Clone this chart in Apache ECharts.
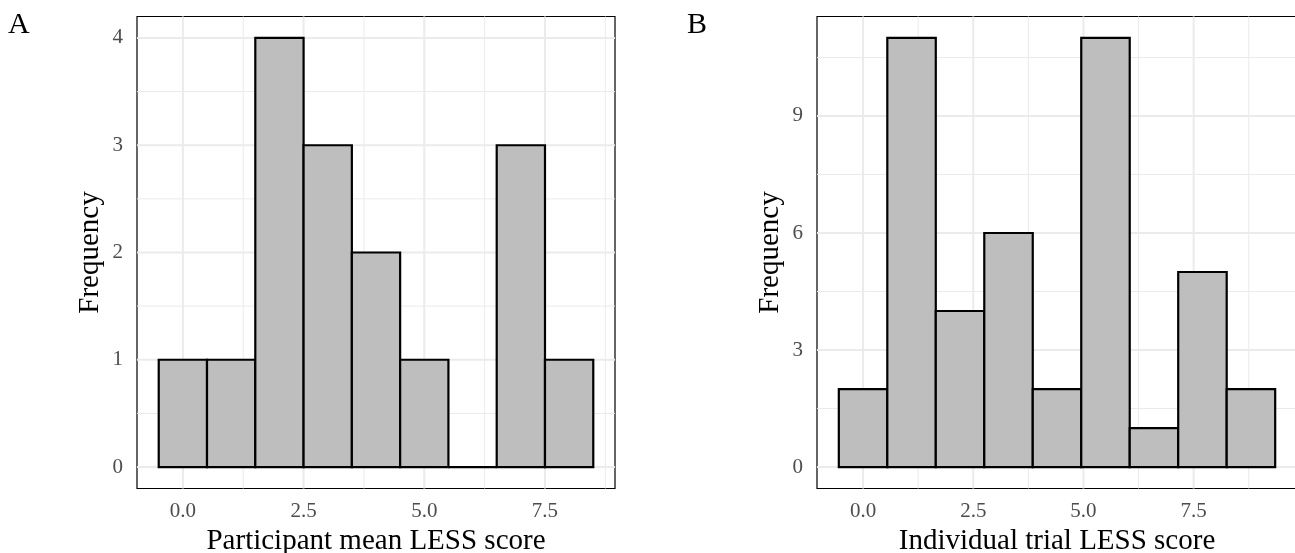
<!DOCTYPE html>
<html>
<head>
<meta charset="utf-8">
<script src="https://cdn.jsdelivr.net/npm/echarts@6/dist/echarts.min.js"></script>
<style>html,body{margin:0;padding:0;background:#fff}#c{width:1295px;height:553px}</style>
</head>
<body>
<div id="c"></div>
<script>
// ---- data ----
var binEdgesA = [-0.5, 0.5, 1.5, 2.5, 3.5, 4.5, 5.5, 6.5, 7.5, 8.5];
var countsA = [1, 1, 4, 3, 2, 1, 0, 3, 1];
var binEdgesB = [-0.55, 0.55, 1.65, 2.75, 3.85, 4.95, 6.05, 7.15, 8.25, 9.35];
var countsB = [2, 11, 4, 6, 2, 11, 1, 5, 2];
var xTicks = [0, 2.5, 5, 7.5];
var xMinor = [1.25, 3.75, 6.25, 8.75];
var yTicksA = [0, 1, 2, 3, 4];
var yMinorA = [0.5, 1.5, 2.5, 3.5];
var yTicksB = [0, 3, 6, 9];
var yMinorB = [1.5, 4.5, 7.5, 10.5];
var xTitleA = 'Participant mean LESS score';
var xTitleB = 'Individual trial LESS score';
var yTitle = 'Frequency';
var panelLabels = ['A', 'B'];

var FONT = 'Liberation Serif';

function bins(edges, counts) {
  return counts.map(function (c, i) { return [edges[i], edges[i + 1], c]; });
}

function barRender(params, api) {
  var p0 = api.coord([api.value(0), 0]);
  var p1 = api.coord([api.value(1), api.value(2)]);
  return {
    type: 'rect',
    shape: { x: p0[0], y: p1[1], width: p1[0] - p0[0], height: p0[1] - p1[1] },
    style: { fill: '#bebebe', stroke: '#000', lineWidth: 2.2 }
  };
}

function vRender(w) {
  return function (params, api) {
    var cs = params.coordSys;
    var x = api.coord([api.value(0), 0])[0];
    if (x < cs.x || x > cs.x + cs.width) return null;
    return { type: 'line', shape: { x1: x, y1: cs.y, x2: x, y2: cs.y + cs.height },
      style: { stroke: '#ebebeb', lineWidth: w } };
  };
}
function hRender(w) {
  return function (params, api) {
    var cs = params.coordSys;
    var y = api.coord([0, api.value(0)])[1];
    if (y < cs.y || y > cs.y + cs.height) return null;
    return { type: 'line', shape: { x1: cs.x, y1: y, x2: cs.x + cs.width, y2: y },
      style: { stroke: '#ebebeb', lineWidth: w } };
  };
}

function gridSeries(idx, yMaj, yMin) {
  var base = { type: 'custom', xAxisIndex: idx, yAxisIndex: idx, silent: true, z: 1, clip: false };
  return [
    Object.assign({}, base, { data: xMinor.map(function (v) { return [v]; }), renderItem: vRender(1), encode: { x: 0 } }),
    Object.assign({}, base, { data: xTicks.map(function (v) { return [v]; }), renderItem: vRender(2), encode: { x: 0 } }),
    Object.assign({}, base, { data: yMin.map(function (v) { return [v]; }), renderItem: hRender(1), encode: { y: 0 } }),
    Object.assign({}, base, { data: yMaj.map(function (v) { return [v]; }), renderItem: hRender(2), encode: { y: 0 } })
  ];
}

function xAxis(idx, min, max, title) {
  return {
    type: 'value', gridIndex: idx, min: min, max: max,
    splitLine: { show: false },
    axisLine: { show: false },
    axisTick: { show: true, customValues: xTicks, length: 3, lineStyle: { color: '#cfcfcf', width: 1 } },
    axisLabel: { customValues: xTicks, margin: 12, color: '#4d4d4d', fontFamily: FONT, fontSize: 21,
      formatter: function (v) { return v.toFixed(1); } },
    name: title, nameLocation: 'middle', nameGap: 28,
    nameTextStyle: { color: '#000', fontFamily: FONT, fontSize: 29 }
  };
}
function yAxis(idx, min, max, ticks) {
  return {
    type: 'value', gridIndex: idx, min: min, max: max,
    splitLine: { show: false },
    axisLine: { show: false },
    axisTick: { show: true, customValues: ticks, length: 3, lineStyle: { color: '#cfcfcf', width: 1 } },
    axisLabel: { customValues: ticks, margin: 14, color: '#4d4d4d', fontFamily: FONT, fontSize: 21 },
    name: yTitle, nameLocation: 'middle', nameGap: 32,
    nameTextStyle: { color: '#000', fontFamily: FONT, fontSize: 29 }
  };
}

var chart = echarts.init(document.getElementById('c'), null, { renderer: 'canvas' });
chart.setOption({
  animation: false,
  backgroundColor: '#fff',
  grid: [
    { left: 137, width: 478, top: 16.5, height: 472, containLabel: false, outerBoundsMode: 'none',
      show: true, borderColor: '#000', borderWidth: 1.2, backgroundColor: 'transparent' },
    { left: 817, width: 480, top: 16.5, height: 472, containLabel: false, outerBoundsMode: 'none',
      show: true, borderColor: '#000', borderWidth: 1.2, backgroundColor: 'transparent' }
  ],
  xAxis: [xAxis(0, -0.95, 8.95, xTitleA), xAxis(1, -1.045, 9.845, xTitleB)],
  yAxis: [yAxis(0, -0.2, 4.2, yTicksA), yAxis(1, -0.55, 11.55, yTicksB)],
  graphic: [
    { type: 'text', left: 8, top: 10, style: { text: panelLabels[0], font: '30px "Liberation Serif"', fill: '#000' } },
    { type: 'text', left: 687, top: 10, style: { text: panelLabels[1], font: '30px "Liberation Serif"', fill: '#000' } }
  ],
  series: [].concat(
    gridSeries(0, yTicksA, yMinorA),
    gridSeries(1, yTicksB, yMinorB),
    [
      { type: 'custom', xAxisIndex: 0, yAxisIndex: 0, z: 5, data: bins(binEdgesA, countsA), renderItem: barRender, encode: { x: [0, 1], y: 2 } },
      { type: 'custom', xAxisIndex: 1, yAxisIndex: 1, z: 5, data: bins(binEdgesB, countsB), renderItem: barRender, encode: { x: [0, 1], y: 2 } }
    ]
  )
});
</script>
</body>
</html>
